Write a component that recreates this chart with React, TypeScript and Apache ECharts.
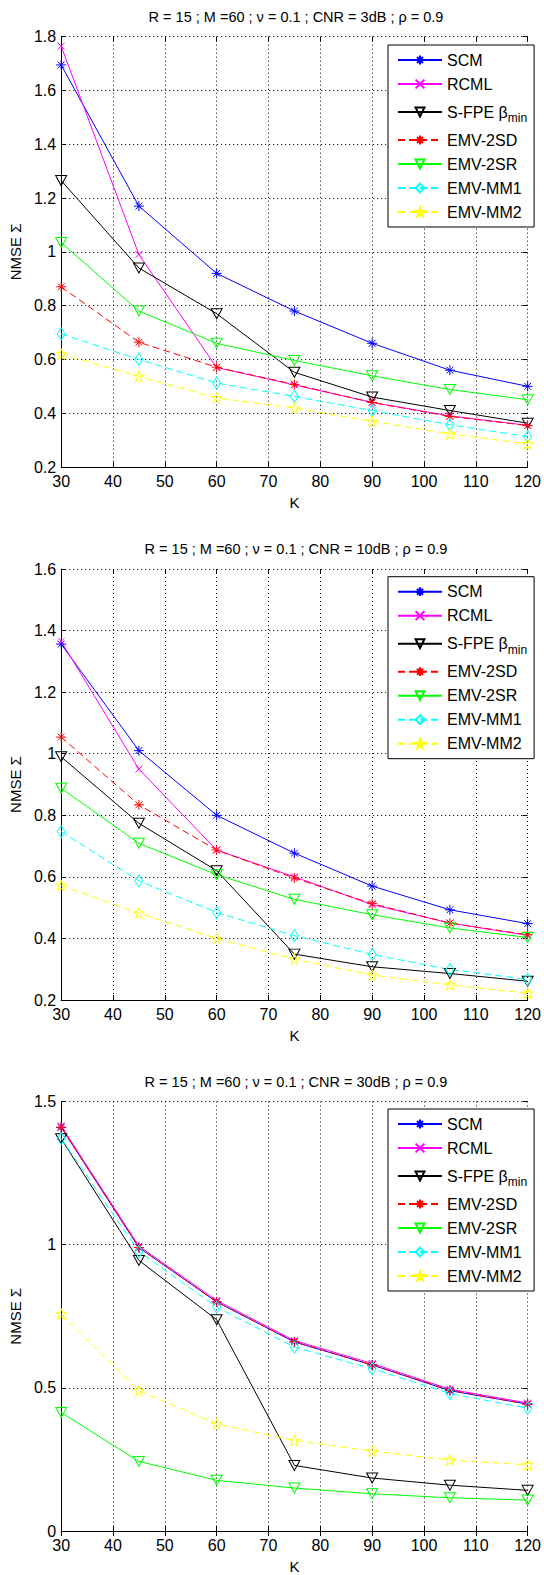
import React, { useEffect, useRef } from 'react';
import * as echarts from 'echarts';

// ---------- data ----------
const K = [30, 45, 60, 75, 90, 105, 120];
const NAMES = ['SCM', 'RCML', 'S-FPE βmin', 'EMV-2SD', 'EMV-2SR', 'EMV-MM1', 'EMV-MM2'];
const TITLES = [
  'R = 15 ; M =60 ; ν = 0.1 ; CNR = 3dB ; ρ = 0.9',
  'R = 15 ; M =60 ; ν = 0.1 ; CNR = 10dB ; ρ = 0.9',
  'R = 15 ; M =60 ; ν = 0.1 ; CNR = 30dB ; ρ = 0.9',
];
const X_MIN = 30;
const X_MAX = 120;
const X_STEP = 10;
const Y_MIN = [0.2, 0.2, 0];
const Y_MAX = [1.8, 1.6, 1.5];
const Y_STEP = [0.2, 0.2, 0.5];
const X_NAME = 'K';
const Y_NAME = 'NMSE Σ';

// CNR = 3 dB
const CNR3_SCM = [1.695, 1.17, 0.92, 0.78, 0.66, 0.56, 0.5];
const CNR3_RCML = [1.765, 0.99, 0.57, 0.505, 0.44, 0.39, 0.355];
const CNR3_SFPE = [1.265, 0.94, 0.77, 0.552, 0.46, 0.41, 0.363];
const CNR3_2SD = [0.87, 0.664, 0.571, 0.507, 0.44, 0.388, 0.354];
const CNR3_2SR = [1.035, 0.78, 0.66, 0.596, 0.539, 0.488, 0.45];
const CNR3_MM1 = [0.695, 0.6, 0.512, 0.462, 0.41, 0.357, 0.313];
const CNR3_MM2 = [0.62, 0.537, 0.457, 0.419, 0.37, 0.323, 0.286];

// CNR = 10 dB
const CNR10_SCM = [1.356, 1.01, 0.8, 0.677, 0.57, 0.493, 0.448];
const CNR10_RCML = [1.365, 0.95, 0.687, 0.6, 0.51, 0.45, 0.41];
const CNR10_SFPE = [0.99, 0.774, 0.62, 0.349, 0.308, 0.286, 0.261];
const CNR10_2SD = [1.054, 0.834, 0.687, 0.596, 0.513, 0.45, 0.412];
const CNR10_2SR = [0.888, 0.709, 0.607, 0.527, 0.477, 0.434, 0.403];
const CNR10_MM1 = [0.747, 0.587, 0.484, 0.409, 0.348, 0.299, 0.267];
const CNR10_MM2 = [0.572, 0.482, 0.4, 0.333, 0.281, 0.249, 0.222];

// CNR = 30 dB
const CNR30_SCM = [1.41, 0.99, 0.8, 0.66, 0.58, 0.49, 0.443];
const CNR30_RCML = [1.415, 0.995, 0.805, 0.665, 0.585, 0.495, 0.447];
const CNR30_SFPE = [1.37, 0.945, 0.738, 0.229, 0.185, 0.16, 0.142];
const CNR30_2SD = [1.41, 0.99, 0.8, 0.661, 0.58, 0.492, 0.443];
const CNR30_2SR = [0.414, 0.243, 0.177, 0.15, 0.13, 0.116, 0.108];
const CNR30_MM1 = [1.37, 0.976, 0.782, 0.642, 0.567, 0.48, 0.429];
const CNR30_MM2 = [0.758, 0.49, 0.374, 0.316, 0.279, 0.248, 0.231];

const PANELS = [
  [CNR3_SCM, CNR3_RCML, CNR3_SFPE, CNR3_2SD, CNR3_2SR, CNR3_MM1, CNR3_MM2],
  [CNR10_SCM, CNR10_RCML, CNR10_SFPE, CNR10_2SD, CNR10_2SR, CNR10_MM1, CNR10_MM2],
  [CNR30_SCM, CNR30_RCML, CNR30_SFPE, CNR30_2SD, CNR30_2SR, CNR30_MM1, CNR30_MM2],
];

// ---------- styles / layout ----------
const FONT = "'Liberation Sans', Arial, Helvetica, sans-serif";
const TICK_FONT = "'Liberation Sans Narrow', 'Liberation Sans', Arial, sans-serif";

const ASTERISK = 'path://M5,0L5,10M0,5L10,5M1.6,1.6L8.4,8.4M1.6,8.4L8.4,1.6';
const CROSS = 'path://M0,0L10,10M0,10L10,0';
const TRI_DOWN = 'path://M0,0L10,0L5,9Z';
const DIAMOND = 'path://M5,0L10,7L5,14L0,7Z';
const PENTAGRAM =
  'path://M10,0L12.245,6.91L19.51,6.91L13.633,11.18L15.88,18.09L10,13.82L4.12,18.09L6.367,11.18L0.49,6.91L7.755,6.91Z';

const STYLES = [
  { color: '#0000ff', dashed: false, symbol: ASTERISK, size: [10, 10] },
  { color: '#ff00ff', dashed: false, symbol: CROSS, size: [7, 7] },
  { color: '#000000', dashed: false, symbol: TRI_DOWN, size: [11, 10] },
  { color: '#ff0000', dashed: true, symbol: ASTERISK, size: [10, 10] },
  { color: '#00ff00', dashed: false, symbol: TRI_DOWN, size: [11, 10] },
  { color: '#00ffff', dashed: true, symbol: DIAMOND, size: [8, 12] },
  { color: '#ffff00', dashed: true, symbol: PENTAGRAM, size: [11, 11] },
];

const GRID_LEFT = 61;
const GRID_WIDTH = 470;
const GRID_TOPS = [36.7, 569, 1101.5];
const GRID_HEIGHTS = [430.3, 431, 430.5];
const LEGEND_TOPS = [45, 576.7, 1109];
const TITLE_Y = [17.3, 549, 1081.7];

function buildOption() {
  const grid: any[] = [];
  const xAxis: any[] = [];
  const yAxis: any[] = [];
  const series: any[] = [];
  const legend: any[] = [];
  const graphic: any[] = [];

  for (let i = 0; i < 3; i++) {
    grid.push({ left: GRID_LEFT, top: GRID_TOPS[i], width: GRID_WIDTH, height: GRID_HEIGHTS[i], containLabel: false });

    xAxis.push({
      type: 'value', gridIndex: i, position: 'bottom', min: X_MIN, max: X_MAX, interval: X_STEP,
      axisLine: { show: true, onZero: false, lineStyle: { color: '#000', width: 1 } },
      axisTick: { show: true, inside: true, length: 5, lineStyle: { color: '#000', width: 1 } },
      axisLabel: { show: true, color: '#000', fontSize: 16, fontFamily: TICK_FONT, margin: 6, showMinLabel: true, showMaxLabel: true },
      splitLine: { show: true, lineStyle: { color: '#000', width: 1, type: [1, 3] } },
      name: X_NAME, nameLocation: 'middle', nameGap: 28,
      nameTextStyle: { color: '#000', fontSize: 15, fontFamily: FONT },
    });
    xAxis.push({
      type: 'value', gridIndex: i, position: 'top', min: X_MIN, max: X_MAX, interval: X_STEP,
      axisLine: { show: false },
      axisTick: { show: true, inside: true, length: 5, lineStyle: { color: '#000', width: 1 } },
      axisLabel: { show: false }, splitLine: { show: false },
    });

    yAxis.push({
      type: 'value', gridIndex: i, position: 'left', min: Y_MIN[i], max: Y_MAX[i], interval: Y_STEP[i],
      axisLine: { show: true, onZero: false, lineStyle: { color: '#000', width: 1 } },
      axisTick: { show: true, inside: true, length: 5, lineStyle: { color: '#000', width: 1 } },
      axisLabel: { show: true, color: '#000', fontSize: 16, fontFamily: TICK_FONT, margin: 5, showMinLabel: true, showMaxLabel: true },
      splitLine: { show: true, lineStyle: { color: '#000', width: 1, type: [1, 3] } },
      name: Y_NAME, nameLocation: 'middle', nameGap: 32,
      nameTextStyle: { color: '#000', fontSize: 15, fontFamily: FONT },
    });
    yAxis.push({
      type: 'value', gridIndex: i, position: 'right', min: Y_MIN[i], max: Y_MAX[i], interval: Y_STEP[i],
      axisLine: { show: false },
      axisTick: { show: true, inside: true, length: 5, lineStyle: { color: '#000', width: 1 } },
      axisLabel: { show: false }, splitLine: { show: false },
    });

    PANELS[i].forEach((vals, j) => {
      const st = STYLES[j];
      series.push({
        type: 'line', name: NAMES[j], xAxisIndex: 2 * i, yAxisIndex: 2 * i,
        data: K.map((k, idx) => [k, vals[idx]]),
        symbol: st.symbol, symbolSize: st.size, showSymbol: true, clip: false,
        lineStyle: { color: st.color, width: 1, type: st.dashed ? [7, 4] : 'solid' },
        itemStyle: { color: 'rgba(0,0,0,0)', borderColor: st.color, borderWidth: 1 },
        emphasis: { disabled: true }, z: 2,
      });
    });

    legend.push({
      orient: 'vertical', left: 388, top: LEGEND_TOPS[i], itemWidth: 44, itemHeight: 11, itemGap: 8,
      padding: [7, 7, 7, 9], borderColor: '#000', borderWidth: 1, backgroundColor: '#fff',
      selectedMode: false, data: NAMES,
      formatter: (n: string) => (n === 'S-FPE βmin' ? '{a|S-FPE β}{s|min}' : n),
      textStyle: {
        color: '#000', fontSize: 16, fontFamily: TICK_FONT, lineHeight: 16,
        rich: {
          a: { color: '#000', fontSize: 16, fontFamily: TICK_FONT, lineHeight: 16 },
          s: { color: '#000', fontSize: 12, fontFamily: TICK_FONT, lineHeight: 13, padding: [12, 0, 0, 0] },
        },
      },
      z: 10,
    });

    graphic.push({
      type: 'text', x: GRID_LEFT + GRID_WIDTH / 2, y: TITLE_Y[i], z: 10,
      style: { text: TITLES[i], fill: '#000', font: `14.5px ${FONT}`, textAlign: 'center', textVerticalAlign: 'middle' },
    });
  }

  return { animation: false, backgroundColor: '#fff', grid, xAxis, yAxis, series, legend, graphic, tooltip: { show: false } };
}

export default function App() {
  const ref = useRef<HTMLDivElement>(null);
  useEffect(() => {
    if (!ref.current) return;
    const chart = echarts.init(ref.current, undefined, { renderer: 'svg' });
    chart.setOption(buildOption() as any);
    return () => chart.dispose();
  }, []);
  return (
    <div
      ref={ref}
      style={{ position: 'absolute', left: 0, top: 0, width: 544, height: 1575, background: '#fff' }}
    />
  );
}
